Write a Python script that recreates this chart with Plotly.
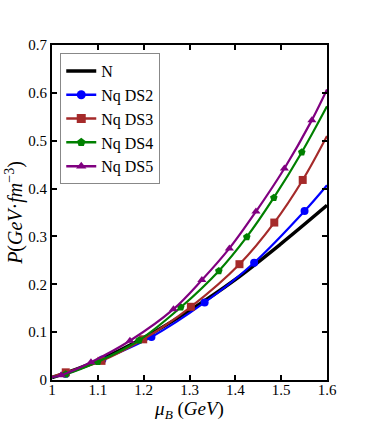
import plotly.graph_objects as go

# ── data ────────────────────────────────────────────────────────────────────
n_x = [1.0, 1.1, 1.2, 1.3, 1.4, 1.5, 1.6]
n_y = [0.005, 0.040, 0.088, 0.145, 0.210, 0.285, 0.365]

ds2_line_x = [1.0, 1.03, 1.11, 1.217, 1.333, 1.441, 1.551, 1.6]
ds2_line_y = [0.006, 0.013, 0.043, 0.090, 0.162, 0.245, 0.353, 0.407]
ds2_mark_x = [1.03, 1.11, 1.217, 1.333, 1.441, 1.551]
ds2_mark_y = [0.013, 0.043, 0.090, 0.162, 0.245, 0.353]

ds3_line_x = [1.0, 1.03, 1.108, 1.199, 1.303, 1.409, 1.485, 1.547, 1.6]
ds3_line_y = [0.007, 0.016, 0.040, 0.085, 0.153, 0.242, 0.329, 0.418, 0.51]
ds3_mark_x = [1.03, 1.108, 1.199, 1.303, 1.409, 1.485, 1.547]
ds3_mark_y = [0.016, 0.040, 0.085, 0.153, 0.242, 0.329, 0.418]

ds4_line_x = [1.0, 1.03, 1.10, 1.19, 1.281, 1.364, 1.425, 1.484, 1.545, 1.6]
ds4_line_y = [0.006, 0.012, 0.038, 0.083, 0.152, 0.228, 0.299, 0.381, 0.476, 0.572]
ds4_mark_x = [1.03, 1.10, 1.19, 1.281, 1.364, 1.425, 1.484, 1.545]
ds4_mark_y = [0.012, 0.038, 0.083, 0.152, 0.228, 0.299, 0.381, 0.476]

ds5_line_x = [1.0, 1.02, 1.085, 1.17, 1.265, 1.327, 1.387, 1.445, 1.507, 1.567, 1.6]
ds5_line_y = [0.006, 0.010, 0.037, 0.082, 0.148, 0.209, 0.275, 0.352, 0.442, 0.543, 0.607]
ds5_mark_x = [1.02, 1.085, 1.17, 1.265, 1.327, 1.387, 1.445, 1.507, 1.567]
ds5_mark_y = [0.010, 0.037, 0.082, 0.148, 0.209, 0.275, 0.352, 0.442, 0.543]

x_ticks = [1.0, 1.1, 1.2, 1.3, 1.4, 1.5, 1.6]
x_labels = ["1", "1.1", "1.2", "1.3", "1.4", "1.5", "1.6"]
y_ticks = [0, 0.1, 0.2, 0.3, 0.4, 0.5, 0.6, 0.7]
y_labels = ["0", "0.1", "0.2", "0.3", "0.4", "0.5", "0.6", "0.7"]

SERIF = "Liberation Serif"

series = [
    ("Nq DS2", ds2_line_x, ds2_line_y, ds2_mark_x, ds2_mark_y, "#0000ff", "circle", 8),
    ("Nq DS3", ds3_line_x, ds3_line_y, ds3_mark_x, ds3_mark_y, "#a52a2a", "square", 8),
    ("Nq DS4", ds4_line_x, ds4_line_y, ds4_mark_x, ds4_mark_y, "#008000", "pentagon", 8),
    ("Nq DS5", ds5_line_x, ds5_line_y, ds5_mark_x, ds5_mark_y, "#800080", "triangle-up", 8),
]

fig = go.Figure()

# legend-only entries (drawn first so legend order matches)
fig.add_trace(go.Scatter(x=[None], y=[None], mode="lines", name="N",
                         line=dict(color="black", width=3.5)))
for name, lx, ly, mx, my, col, sym, ms in series:
    fig.add_trace(go.Scatter(x=[None], y=[None], mode="lines+markers", name=name,
                             line=dict(color=col, width=2.5),
                             marker=dict(color=col, symbol=sym, size=ms + 1)))

# actual curves
fig.add_trace(go.Scatter(x=n_x, y=n_y, mode="lines", showlegend=False,
                         line=dict(color="black", width=3.5, shape="spline")))
for name, lx, ly, mx, my, col, sym, ms in series:
    fig.add_trace(go.Scatter(x=lx, y=ly, mode="lines", showlegend=False,
                             line=dict(color=col, width=2.2, shape="spline")))
    fig.add_trace(go.Scatter(x=mx, y=my, mode="markers", showlegend=False,
                             marker=dict(color=col, symbol=sym, size=ms)))

axis_common = dict(
    showline=True, linecolor="black", linewidth=2, mirror="ticks",
    ticks="inside", ticklen=5, tickwidth=1.5, tickcolor="black",
    showgrid=False, zeroline=False,
    tickfont=dict(family=SERIF, size=15, color="black"),
)

fig.update_layout(
    width=374, height=431,
    margin=dict(l=52, r=47, t=45, b=51),
    paper_bgcolor="white", plot_bgcolor="white",
    font=dict(family=SERIF, color="black"),
    xaxis=dict(range=[1.0, 1.6], tickvals=x_ticks, ticktext=x_labels,
               ticklabelstandoff=-5,
               title=dict(text="<i>μ</i><sub><i>B</i></sub> (<i>GeV</i>)",
                          font=dict(family=SERIF, size=19), standoff=0),
               **axis_common),
    yaxis=dict(range=[0, 0.7], tickvals=y_ticks, ticktext=y_labels,
               title=dict(text="<i>P</i>(<i>GeV</i>·<i>fm</i><sup>−3</sup>)",
                          font=dict(family=SERIF, size=20), standoff=0),
               **axis_common),
    legend=dict(x=0.03, y=0.976, xanchor="left", yanchor="top",
                bgcolor="white", bordercolor="#888888", borderwidth=1,
                font=dict(family=SERIF, size=16, color="black"),
                tracegroupgap=0, itemwidth=30),
)

fig.write_html("out.html", config={"displayModeBar": False},
               post_script="document.body.style.margin='0px';")
